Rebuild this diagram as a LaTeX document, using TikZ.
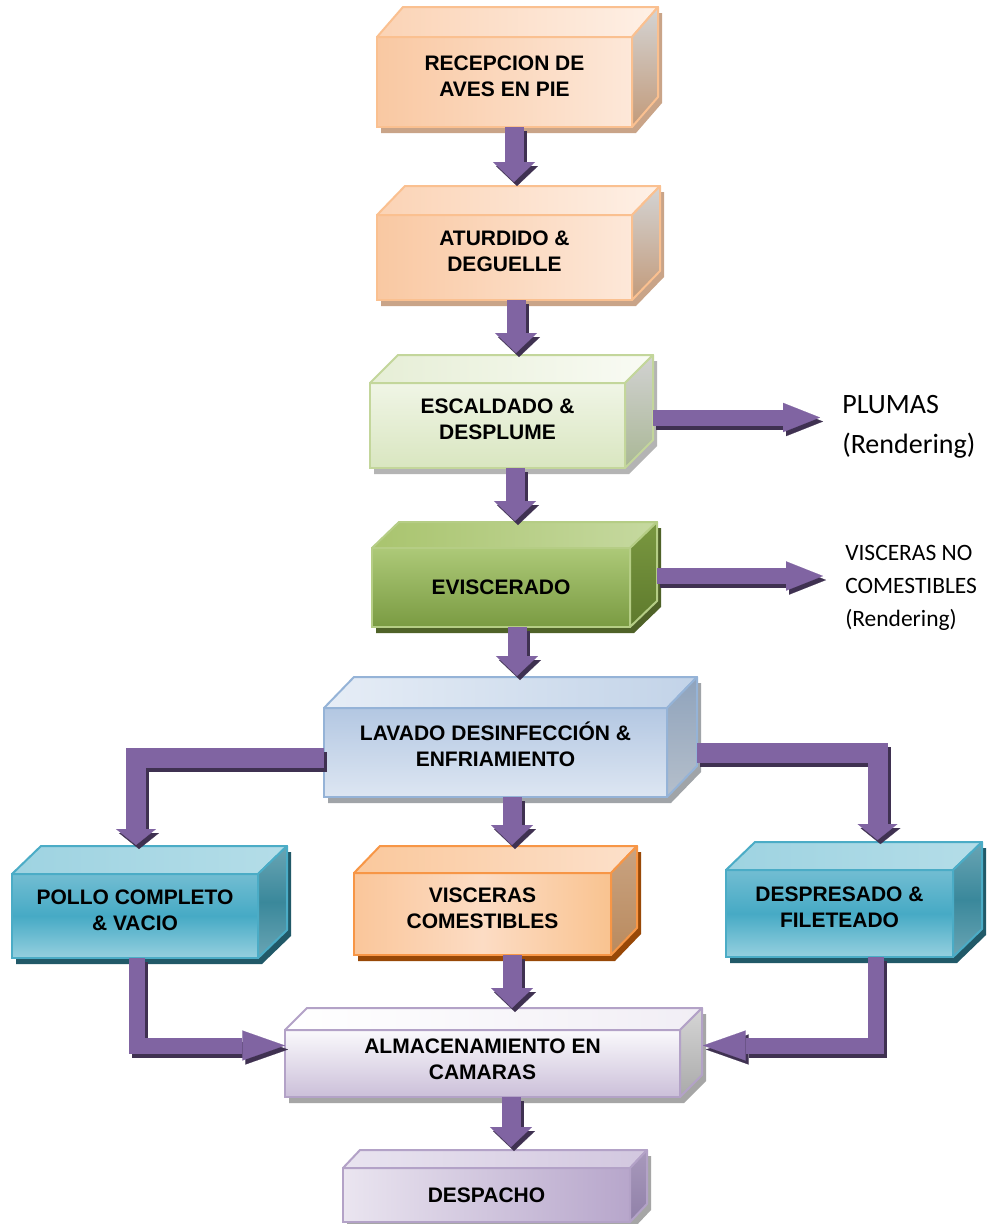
\documentclass[tikz,border=0pt]{standalone}
\usepackage{fontspec}
\newfontfamily\arialf{Liberation Sans}
\newfontfamily\calib{Carlito}
\usetikzlibrary{calc,arrows.meta}
\pgfdeclarelayer{paper}
\pgfdeclarelayer{bg}
\pgfsetlayers{paper,bg,main}
% colours
\definecolor{peachE}{HTML}{FAC090}
\definecolor{peachF1}{HTML}{F9C8A2}
\definecolor{peachF2}{HTML}{FDE8D9}
\definecolor{peachT1}{HTML}{FBD3B5}
\definecolor{peachT2}{HTML}{FEF0E6}
\definecolor{peachS1}{HTML}{D4D4D4}
\definecolor{peachS2}{HTML}{C29A7A}
\definecolor{peachSh}{HTML}{C9A488}
\definecolor{lgreenE}{HTML}{C3D69B}
\definecolor{lgreenF1}{HTML}{F0F5E6}
\definecolor{lgreenF2}{HTML}{D9E6C0}
\definecolor{lgreenT1}{HTML}{E6EED6}
\definecolor{lgreenT2}{HTML}{F9FBF4}
\definecolor{lgreenS1}{HTML}{D2D2D2}
\definecolor{lgreenS2}{HTML}{A9B795}
\definecolor{lgreenSh}{HTML}{B4B4B4}
\definecolor{greenE}{HTML}{B5CD85}
\definecolor{greenF1}{HTML}{ADC978}
\definecolor{greenF2}{HTML}{7A9B42}
\definecolor{greenT1}{HTML}{A9C46E}
\definecolor{greenT2}{HTML}{C6D9A0}
\definecolor{greenS1}{HTML}{7A9841}
\definecolor{greenS2}{HTML}{5E7A2C}
\definecolor{greenSh}{HTML}{4F6228}
\definecolor{blueE}{HTML}{95B3D7}
\definecolor{blueF1}{HTML}{B3C7E2}
\definecolor{blueF2}{HTML}{DDE6F2}
\definecolor{blueT1}{HTML}{C2D3E8}
\definecolor{blueT2}{HTML}{E6EDF6}
\definecolor{blueS1}{HTML}{8FA3BC}
\definecolor{blueS2}{HTML}{B5BFCB}
\definecolor{blueSh}{HTML}{A0A4A8}
\definecolor{tealE}{HTML}{4BACC6}
\definecolor{tealF1}{HTML}{72BDD2}
\definecolor{tealF2}{HTML}{46AAC5}
\definecolor{tealF3}{HTML}{96D0DF}
\definecolor{tealT1}{HTML}{9ED3E1}
\definecolor{tealT2}{HTML}{B4DDE8}
\definecolor{tealS1}{HTML}{6AA5B4}
\definecolor{tealS2}{HTML}{3A889B}
\definecolor{tealSh}{HTML}{215968}
\definecolor{orangeE}{HTML}{F79646}
\definecolor{orangeF1}{HTML}{FAC69A}
\definecolor{orangeF2}{HTML}{FCDCC4}
\definecolor{orangeF3}{HTML}{F9C390}
\definecolor{orangeT1}{HTML}{FAC89C}
\definecolor{orangeT2}{HTML}{FCE0CA}
\definecolor{orangeS1}{HTML}{C9A381}
\definecolor{orangeS2}{HTML}{B98A5E}
\definecolor{orangeSh}{HTML}{984807}
\definecolor{lavE}{HTML}{B3A2C7}
\definecolor{lavF1}{HTML}{FAF9FC}
\definecolor{lavF2}{HTML}{CBBFD9}
\definecolor{lavT1}{HTML}{F1EEF5}
\definecolor{lavT2}{HTML}{FFFFFF}
\definecolor{lavS1}{HTML}{D6D6D6}
\definecolor{lavS2}{HTML}{A9A9A9}
\definecolor{lavSh}{HTML}{A6A6A6}
\definecolor{despF1}{HTML}{EAE5F0}
\definecolor{despF2}{HTML}{B7A6CB}
\definecolor{despT1}{HTML}{D2C7DF}
\definecolor{despT2}{HTML}{E9E4F0}
\definecolor{despS1}{HTML}{A899BC}
\definecolor{despS2}{HTML}{9080A8}
\definecolor{armain}{HTML}{8064A2}
\definecolor{arshadow}{HTML}{3F3151}

\tikzset{
  frontbox/.style={rectangle, outer sep=0pt, inner sep=0pt, line width=1.5pt},
  facebox/.style={line width=1.5pt, line join=round},
  boxtext/.style={font=\arialf\bfseries\fontsize{15.75}{19.5}\selectfont, align=center, inner sep=0pt, text=black},
  % schemes
  peach front/.style={draw=peachE, left color=peachF1, right color=peachF2},
  peach top/.style={draw=peachE, left color=peachT1, right color=peachT2},
  peach side/.style={draw=peachE, top color=peachS1, bottom color=peachS2},
  peach shadow/.style={fill=peachSh},
  lgreen front/.style={draw=lgreenE, top color=lgreenF1, bottom color=lgreenF2},
  lgreen top/.style={draw=lgreenE, left color=lgreenT1, right color=lgreenT2},
  lgreen side/.style={draw=lgreenE, top color=lgreenS1, bottom color=lgreenS2},
  lgreen shadow/.style={fill=lgreenSh},
  green front/.style={draw=greenE, top color=greenF1, bottom color=greenF2},
  green top/.style={draw=greenE, left color=greenT1, right color=greenT2},
  green side/.style={draw=greenE, top color=greenS1, bottom color=greenS2},
  green shadow/.style={fill=greenSh},
  blue front/.style={draw=blueE, top color=blueF1, bottom color=blueF2},
  blue top/.style={draw=blueE, left color=blueT2, right color=blueT1},
  blue side/.style={draw=blueE, top color=blueS1, bottom color=blueS2},
  blue shadow/.style={fill=blueSh},
  teal front/.style={draw=tealE, top color=tealF1, bottom color=tealF3, middle color=tealF2},
  teal top/.style={draw=tealE, left color=tealT1, right color=tealT2},
  teal side/.style={draw=tealE, top color=tealS1, bottom color=tealS1, middle color=tealS2},
  teal shadow/.style={fill=tealSh},
  orange front/.style={draw=orangeE, left color=orangeF1, right color=orangeF3, middle color=orangeF2},
  orange top/.style={draw=orangeE, left color=orangeT1, right color=orangeT2},
  orange side/.style={draw=orangeE, top color=orangeS1, bottom color=orangeS2},
  orange shadow/.style={fill=orangeSh},
  lav front/.style={draw=lavE, top color=lavF1, bottom color=lavF2},
  lav top/.style={draw=lavE, left color=lavT2, right color=lavT1},
  lav side/.style={draw=lavE, top color=lavS1, bottom color=lavS2},
  lav shadow/.style={fill=lavSh},
  desp front/.style={draw=lavE, left color=despF1, right color=despF2},
  desp top/.style={draw=lavE, left color=despT2, right color=despT1},
  desp side/.style={draw=lavE, top color=despS1, bottom color=despS2},
  desp shadow/.style={fill=lavSh},
  % arrows
  vfat/.style={line width=14.25pt, -{Triangle[length=15pt,width=31.5pt,line width=0.1pt]}},
  hfat/.style={line width=12pt, -{Triangle[length=27.75pt,width=22pt,line width=0.1pt]}},
  lfat/.style={line width=15pt, line join=miter, -{Triangle[length=12pt,width=30pt,line width=0.1pt]}},
  bfat/.style={line width=12pt, line join=miter, -{Triangle[length=32pt,width=22.5pt,line width=0.1pt]}},
  sidelabel/.style={align=left, inner sep=0pt, anchor=west, text=black},
}

% #1 name, #2 position, #3 width px, #4 height px, #5 depth x, #6 depth y, #7 scheme, #8 text shift, #9 text
\newcommand\cube[9]{%
  \node[frontbox, #7 front, minimum width=#3*0.75pt, minimum height=#4*0.75pt] (#1) at #2 {};
  \begin{pgfonlayer}{bg}
    \fill[#7 shadow] ($(#1.north west)+(4,6)$) -- ($(#1.north west)+(#5+4,6-#6)$)
      -- ($(#1.north east)+(#5+4,6-#6)$) -- ($(#1.south east)+(#5+4,6-#6)$)
      -- ($(#1.south east)+(4,6)$) -- ($(#1.south west)+(4,6)$) -- cycle;
  \end{pgfonlayer}
  \draw[facebox, #7 top] (#1.north west) -- ++(#5,-#6) -- ($(#1.north east)+(#5,-#6)$) -- (#1.north east) -- cycle;
  \draw[facebox, #7 side] (#1.north east) -- ++(#5,-#6) -- ($(#1.south east)+(#5,-#6)$) -- (#1.south east) -- cycle;
  \node[boxtext] (#1-t) at ($(#1.center)+(0,#8)$) {#9};
}

\newcommand\fatarrow[2]{%
  \draw[#1, draw=arshadow, color=arshadow, transform canvas={xshift=2.25pt,yshift=-3pt}] #2;
  \draw[#1, draw=armain, color=armain] #2;
}

\begin{document}
\begin{tikzpicture}[x=0.75pt, y=-0.75pt]
\begin{pgfonlayer}{paper}
\fill[white] (0,0) rectangle (988,1224);
\end{pgfonlayer}
\useasboundingbox (0,0) rectangle (988,1224);

\cube{recep}{(504.5,82)}{255}{90}{26}{30}{peach}{-6}{RECEPCION DE\\AVES EN PIE}
\cube{atur}{(504.5,257.5)}{255}{85}{28}{29}{peach}{-6}{ATURDIDO \&\\DEGUELLE}
\cube{esc}{(497.5,425.5)}{255}{85}{28}{28}{lgreen}{-6}{ESCALDADO \&\\DESPLUME}
\cube{evis}{(501,587.5)}{258}{79}{27}{26}{green}{0}{EVISCERADO}
\cube{lav}{(495.5,752.5)}{343}{89}{30}{31}{blue}{-8}{LAVADO DESINFECCIÓN \&\\ENFRIAMIENTO}
\cube{pollo}{(135,916)}{246}{84}{29}{28}{teal}{-6}{POLLO COMPLETO\\\& VACIO}
\cube{visc}{(482.5,914)}{257}{82}{26}{27}{orange}{-6}{VISCERAS\\COMESTIBLES}
\cube{despr}{(839.5,913.5)}{227}{87}{29}{28}{teal}{-6}{DESPRESADO \&\\FILETEADO}
\cube{alm}{(482.5,1063.5)}{395}{67}{22}{22}{lav}{-4}{ALMACENAMIENTO EN\\CAMARAS}
\cube{desp}{(486.5,1195)}{287}{54}{17}{18}{desp}{0}{DESPACHO}

\node[sidelabel, font=\calib\fontsize{21}{30}\selectfont] (plumas) at (842,427) {PLUMAS\\(Rendering)};
\node[sidelabel, font=\calib\fontsize{17.6}{24.75}\selectfont] (vno) at (845,588) {VISCERAS NO\\COMESTIBLES\\(Rendering)};

% vertical flow
\fatarrow{vfat}{($(recep.south)+(9.5,0)$) -- ($(atur.north)+(9.5,-33)$)}
\fatarrow{vfat}{($(atur.south)+(11.5,0)$) -- ($(esc.north)+(18.5,-30)$)}
\fatarrow{vfat}{($(esc.south)+(17.5,0)$) -- ($(evis.north)+(14,-27)$)}
\fatarrow{vfat}{($(evis.south)+(16,0)$) -- ($(lav.north)+(21.5,-32)$)}
\fatarrow{vfat}{($(lav.south)+(16.5,0)$) -- ($(visc.north)+(29.5,-28)$)}
\fatarrow{vfat}{($(visc.south)+(29.5,0)$) -- ($(alm.north)+(29.5,-22)$)}
\fatarrow{vfat}{($(alm.south)+(28.5,0)$) -- ($(desp.north)+(24.5,-21)$)}

% side outputs
\fatarrow{hfat}{($(esc.east)+(28,-8)$) -- ($(plumas.west)+(-22,-9.5)$)}
\fatarrow{hfat}{($(evis.east)+(27,-11.5)$) -- ($(vno.west)+(-22,-12)$)}

% branches
\fatarrow{lfat}{($(lav.west)+(0,5.5)$) -| ($(pollo.north)+(1,-29)$)}
\fatarrow{lfat}{($(lav.east)+(30,0)$) -| ($(despr.north)+(38,-30)$)}

% into storage
\fatarrow{bfat}{($(pollo.south)+(1.5,0)$) |- ($(alm.west)+(0,-18)$)}
\fatarrow{bfat}{($(despr.south)+(36,0)$) |- ($(alm.east)+(23,-18)$)}
\end{tikzpicture}
\end{document}
